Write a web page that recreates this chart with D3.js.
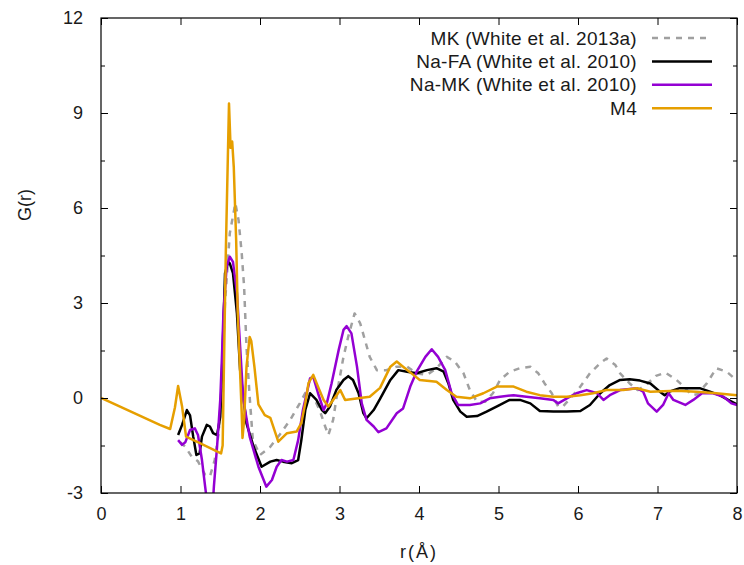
<!doctype html>
<html lang="en">
<head>
<meta charset="UTF-8">
<title>G(r)</title>
<style>
    body { margin: 0; background: #fff; }
    svg { display: block; font-family: "Liberation Sans", Arial, sans-serif; }
    .lbl { fill: #1a1a1a; font-size: 18px; }
</style>
</head>
<body>
<div class="chart"></div>
<script src="https://d3js.org/d3.v7.min.js"></script>
<script>
// r (Angstrom), G(r) pairs
const mk = [[1.0,-1.4],[1.06,-1.54],[1.14,-1.85],[1.22,-2.0],[1.31,-2.43],[1.37,-2.48],[1.43,-1.96],[1.48,-1.11],[1.52,0.5],[1.56,3.0],[1.62,5.2],[1.69,6.15],[1.73,5.62],[1.77,4.57],[1.80,3.52],[1.83,1.62],[1.87,0.04],[1.91,-1.33],[2.0,-1.8],[2.13,-1.54],[2.25,-1.15],[2.38,-0.69],[2.50,-0.17],[2.59,0.25],[2.67,0.04],[2.75,-0.38],[2.82,-0.9],[2.86,-1.17],[2.92,-0.69],[2.99,0.46],[3.05,1.3],[3.11,1.94],[3.19,2.67],[3.26,2.36],[3.32,1.83],[3.38,1.3],[3.47,0.88],[3.59,0.88],[3.72,0.99],[3.85,0.99],[3.97,0.78],[4.10,0.73],[4.22,0.94],[4.35,1.3],[4.45,1.15],[4.56,0.78],[4.64,0.25],[4.73,-0.12],[4.83,-0.12],[4.93,0.15],[5.02,0.57],[5.14,0.83],[5.27,0.94],[5.40,0.99],[5.50,0.78],[5.58,0.46],[5.67,0.15],[5.75,-0.27],[5.81,-0.27],[5.92,0.04],[6.03,0.36],[6.15,0.78],[6.28,1.1],[6.36,1.25],[6.47,1.04],[6.53,0.78],[6.65,0.46],[6.75,0.25],[6.85,0.4],[6.98,0.7],[7.1,0.8],[7.24,0.57],[7.33,0.36],[7.43,0.09],[7.5,0.12],[7.62,0.46],[7.74,0.94],[7.87,0.83],[8.0,0.55]]

const naFA = [[0.97,-1.17],[1.02,-0.85],[1.08,-0.38],[1.12,-0.55],[1.16,-1.22],[1.20,-1.8],[1.24,-1.75],[1.27,-1.22],[1.33,-0.85],[1.37,-0.9],[1.41,-1.11],[1.46,-1.17],[1.50,-0.59],[1.52,0.67],[1.56,3.94],[1.60,4.3],[1.62,4.25],[1.66,3.94],[1.71,2.67],[1.75,0.88],[1.79,0.04],[1.83,-0.8],[1.92,-1.54],[2.02,-2.17],[2.13,-2.01],[2.21,-1.96],[2.29,-2.01],[2.40,-2.06],[2.48,-1.96],[2.52,-1.33],[2.57,-0.38],[2.63,0.15],[2.71,-0.06],[2.78,-0.38],[2.82,-0.48],[2.88,-0.27],[2.96,0.25],[3.05,0.57],[3.11,0.69],[3.17,0.57],[3.24,0.15],[3.30,-0.48],[3.34,-0.64],[3.43,-0.38],[3.51,-0.03],[3.64,0.57],[3.74,0.88],[3.85,0.83],[3.97,0.78],[4.10,0.88],[4.22,0.94],[4.31,0.83],[4.37,0.46],[4.43,-0.06],[4.52,-0.43],[4.60,-0.59],[4.73,-0.57],[4.85,-0.43],[5.0,-0.24],[5.14,-0.06],[5.27,-0.06],[5.40,-0.17],[5.52,-0.41],[5.69,-0.43],[5.86,-0.43],[6.03,-0.41],[6.15,-0.22],[6.28,0.15],[6.40,0.41],[6.53,0.57],[6.65,0.59],[6.78,0.55],[6.91,0.46],[7.03,0.2],[7.09,0.09],[7.15,0.2],[7.28,0.31],[7.40,0.31],[7.53,0.31],[7.66,0.2],[7.78,0.09],[7.89,-0.06],[8.0,-0.2]]

const naMK = [[0.97,-1.33],[1.02,-1.48],[1.06,-1.4],[1.12,-1.01],[1.18,-0.96],[1.22,-1.17],[1.27,-1.96],[1.31,-2.8],[1.35,-3.6],[1.40,-3.6],[1.42,-2.8],[1.46,-1.54],[1.50,-0.06],[1.52,1.2],[1.54,2.67],[1.58,4.15],[1.62,4.46],[1.66,4.3],[1.71,3.31],[1.75,1.62],[1.79,-0.06],[1.87,-1.22],[1.98,-2.17],[2.08,-2.8],[2.15,-2.59],[2.21,-2.17],[2.27,-1.96],[2.34,-2.01],[2.42,-1.96],[2.48,-1.33],[2.54,-0.38],[2.63,0.62],[2.67,0.67],[2.73,0.15],[2.80,-0.38],[2.84,-0.17],[2.90,0.46],[2.99,1.52],[3.05,2.15],[3.09,2.27],[3.15,2.04],[3.22,0.99],[3.28,-0.17],[3.34,-0.69],[3.43,-0.9],[3.49,-1.08],[3.59,-0.96],[3.72,-0.48],[3.80,-0.33],[3.89,0.36],[3.97,0.83],[4.08,1.3],[4.16,1.54],[4.24,1.3],[4.33,0.88],[4.41,0.15],[4.49,-0.22],[4.64,-0.22],[4.77,-0.17],[4.89,-0.01],[5.02,0.04],[5.19,0.09],[5.35,0.04],[5.52,-0.01],[5.69,-0.06],[5.75,-0.17],[5.86,-0.01],[5.98,0.15],[6.11,0.25],[6.24,0.15],[6.32,-0.06],[6.40,0.09],[6.53,0.25],[6.74,0.31],[6.82,0.2],[6.88,-0.17],[6.99,-0.43],[7.07,-0.22],[7.14,0.15],[7.20,-0.06],[7.35,-0.22],[7.45,-0.06],[7.56,0.15],[7.70,0.15],[7.83,0.04],[7.93,-0.17],[8.0,-0.22]]

const m4 = [[0,0],[0.74,-0.85],[0.87,-0.98],[0.93,-0.3],[0.97,0.38],[1.02,-0.27],[1.07,-1.22],[1.25,-1.43],[1.51,-1.75],[1.53,-1.5],[1.57,4.6],[1.61,9.3],[1.63,7.9],[1.65,8.1],[1.67,7.3],[1.70,5.0],[1.72,2.7],[1.77,-0.47],[1.78,-1.26],[1.80,-0.69],[1.83,0.98],[1.87,1.93],[1.89,1.8],[1.93,0.98],[1.98,-0.2],[2.06,-0.54],[2.13,-0.63],[2.23,-1.38],[2.34,-1.11],[2.46,-1.06],[2.52,-0.79],[2.57,-0.16],[2.61,0.47],[2.67,0.73],[2.73,0.36],[2.80,-0.06],[2.86,-0.27],[2.92,-0.06],[3.01,0.25],[3.07,-0.06],[3.26,0],[3.38,0.04],[3.51,0.32],[3.64,0.99],[3.72,1.15],[3.80,0.99],[3.93,0.73],[4.01,0.57],[4.22,0.51],[4.35,0.25],[4.47,0.04],[4.64,-0.01],[4.81,0.15],[4.98,0.36],[5.19,0.36],[5.35,0.2],[5.52,0.09],[5.69,0.04],[5.86,0.04],[6.03,0.09],[6.19,0.15],[6.36,0.25],[6.57,0.25],[6.74,0.31],[6.91,0.2],[7.24,0.23],[7.49,0.2],[7.74,0.15],[8.0,0.09]]

const seriesNames = ['MK (White et al. 2013a)', 'Na-FA (White et al. 2010)', 'Na-MK (White et al. 2010)', 'M4']
const seriesData = [mk, naFA, naMK, m4]
const xTicks = [0, 1, 2, 3, 4, 5, 6, 7, 8]
const yTicks = [-3, 0, 3, 6, 9, 12]
const yMinorTicks = [-1.5, 1.5, 4.5, 7.5, 10.5]

const colors = ['#a0a0a0', '#000000', '#9400d3', '#e69f00']
const dashes = ['6,6', null, null, null]

const W = 744, H = 565
const m = { left: 101, right: 7, top: 18, bottom: 72 }
const iw = W - m.left - m.right, ih = H - m.top - m.bottom

const svg = d3.select('.chart').append('svg')
    .attr('width', W).attr('height', H)

const x = d3.scaleLinear().domain([0, 8]).range([m.left, m.left + iw])
const y = d3.scaleLinear().domain([-3, 12]).range([m.top + ih, m.top])

svg.append('clipPath').attr('id', 'plotclip')
    .append('rect').attr('x', m.left).attr('y', m.top).attr('width', iw).attr('height', ih)

// lines
const line = d3.line().x(d => x(d[0])).y(d => y(d[1]))
const plot = svg.append('g').attr('clip-path', 'url(#plotclip)')
seriesData.forEach(function(s, i) {
    plot.append('path')
        .datum(s)
        .attr('d', line)
        .attr('fill', 'none')
        .attr('stroke', colors[i])
        .attr('stroke-width', 2.5)
        .attr('stroke-linejoin', 'round')
        .attr('stroke-dasharray', dashes[i])
})

// axes, ticks pointing inward like gnuplot, mirrored on top/right
const tickLen = 7
const plain = d => String(d)
const axB = d3.axisBottom(x).tickValues(xTicks).tickSize(-tickLen).tickPadding(14).tickFormat(plain)
const axT = d3.axisTop(x).tickValues(xTicks).tickSize(-tickLen).tickFormat('')
const axL = d3.axisLeft(y).tickValues(yTicks).tickSize(-tickLen).tickPadding(18).tickFormat(plain)
const axR = d3.axisRight(y).tickValues(yTicks).tickSize(-tickLen).tickFormat('')
const axLm = d3.axisLeft(y).tickValues(yMinorTicks).tickSize(-4).tickFormat('')
const axRm = d3.axisRight(y).tickValues(yMinorTicks).tickSize(-4).tickFormat('')

svg.append('g').attr('transform', 'translate(0,' + (m.top + ih) + ')').call(axB)
svg.append('g').attr('transform', 'translate(0,' + m.top + ')').call(axT)
svg.append('g').attr('transform', 'translate(' + m.left + ',0)').call(axL)
svg.append('g').attr('transform', 'translate(' + (m.left + iw) + ',0)').call(axR)
svg.append('g').attr('transform', 'translate(' + m.left + ',0)').call(axLm)
svg.append('g').attr('transform', 'translate(' + (m.left + iw) + ',0)').call(axRm)

svg.selectAll('.domain').remove()
svg.selectAll('.tick line').attr('stroke', '#000').attr('stroke-width', 1)
svg.selectAll('.tick text').attr('class', 'lbl').style('font-size', '18px')
    .attr('fill', '#1a1a1a').attr('font-family', null)

svg.append('rect')
    .attr('x', m.left).attr('y', m.top).attr('width', iw).attr('height', ih)
    .attr('fill', 'none').attr('stroke', '#000').attr('stroke-width', 1.2)

// axis titles
svg.append('text').attr('class', 'lbl')
    .attr('x', m.left + iw / 2).attr('y', 558)
    .attr('text-anchor', 'middle')
    .style('letter-spacing', '2px')
    .text('r(Å)')
svg.append('text').attr('class', 'lbl')
    .attr('transform', 'translate(31,205) rotate(-90)')
    .attr('text-anchor', 'middle')
    .text('G(r)')

// legend
const legend = svg.append('g')
seriesNames.forEach(function(name, i) {
    const ly = 38 + i * 23.4
    legend.append('text').attr('class', 'lbl')
        .attr('x', 637).attr('y', ly)
        .attr('text-anchor', 'end')
        .attr('dominant-baseline', 'central')
        .style('font-size', '19px')
        .style('letter-spacing', '0.3px')
        .text(name)
    legend.append('line')
        .attr('x1', 652).attr('x2', 712).attr('y1', ly).attr('y2', ly)
        .attr('stroke', colors[i]).attr('stroke-width', 2.5)
        .attr('stroke-dasharray', dashes[i])
})
</script>
</body>
</html>
